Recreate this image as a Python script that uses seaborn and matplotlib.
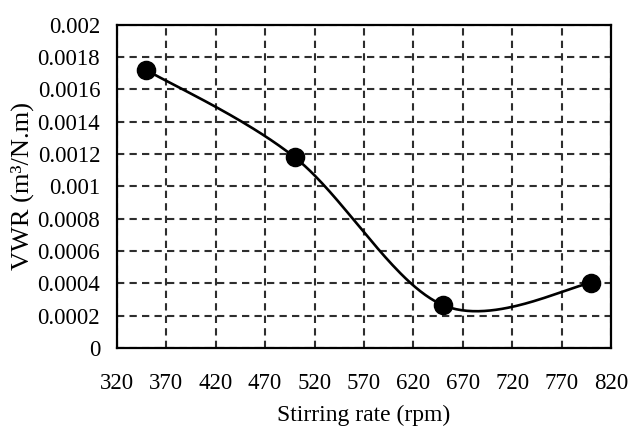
import numpy as np
import pandas as pd
import matplotlib
matplotlib.use("Agg")
import matplotlib.pyplot as plt
import seaborn as sns

# Data
stirring_rate = [350, 500, 650, 800]
vwr = [0.00172, 0.00118, 0.000265, 0.000402]
x_ticks = [320, 370, 420, 470, 520, 570, 620, 670, 720, 770, 820]
y_ticks = [0, 0.0002, 0.0004, 0.0006, 0.0008, 0.001, 0.0012, 0.0014, 0.0016, 0.0018, 0.002]
y_tick_labels = ["0", "0.0002", "0.0004", "0.0006", "0.0008", "0.001",
                 "0.0012", "0.0014", "0.0016", "0.0018", "0.002"]


def smooth_curve(xs, ys, n=60):
    """Excel-style smoothed line (Catmull-Rom Bezier)."""
    P = np.column_stack([xs, ys]).astype(float)
    m = len(P)
    out = []
    for i in range(m - 1):
        p0 = P[i - 1] if i > 0 else P[i]
        p1 = P[i]
        p2 = P[i + 1]
        p3 = P[i + 2] if i + 2 < m else P[i + 1]
        c1 = p1 + (p2 - p0) / 6.0
        c2 = p2 - (p3 - p1) / 6.0
        t = np.linspace(0, 1, n)[:, None]
        seg = ((1 - t) ** 3) * p1 + 3 * ((1 - t) ** 2) * t * c1 + 3 * (1 - t) * t ** 2 * c2 + t ** 3 * p2
        out.append(seg if i == 0 else seg[1:])
    arr = np.vstack(out)
    return arr[:, 0], arr[:, 1]


sx, sy = smooth_curve(stirring_rate, vwr)
curve = pd.DataFrame({"x": sx, "y": sy})
pts = pd.DataFrame({"x": stirring_rate, "y": vwr})

sns.set_theme(style="white")
plt.rcParams["font.family"] = ["Liberation Serif", "DejaVu Serif"]
plt.rcParams["text.color"] = "black"
plt.rcParams["axes.labelcolor"] = "black"

fig = plt.figure(figsize=(6.28, 4.29), dpi=100)
ax = fig.add_axes([0.186, 0.189, 0.787, 0.753])

sns.lineplot(data=curve, x="x", y="y", ax=ax, color="black", linewidth=1.9, sort=False, zorder=3)
sns.scatterplot(data=pts, x="x", y="y", ax=ax, color="black", s=170, edgecolor="black", zorder=4)

ax.set_xlim(320, 820)
ax.set_ylim(0, 0.002)
ax.set_xticks(x_ticks)
ax.set_yticks(y_ticks)
ax.set_yticklabels(y_tick_labels)
ax.tick_params(axis="both", labelsize=16.5, length=0, colors="black")
ax.tick_params(axis="x", pad=18)
ax.tick_params(axis="y", pad=12)

ax.grid(True, color="#2e2e2e", linestyle=(0, (3.5, 2.5)), linewidth=1.5)
ax.set_axisbelow(True)
for s in ax.spines.values():
    s.set_color("black")
    s.set_linewidth(1.6)

ax.set_xlabel("Stirring rate (rpm)", fontsize=17, labelpad=8, color="black")
ax.set_ylabel("VWR (m³/N.m)", fontsize=19, color="black")
ax.yaxis.set_label_coords(-0.168, 0.5)

fig.savefig("out.png", dpi=100, facecolor="white")
